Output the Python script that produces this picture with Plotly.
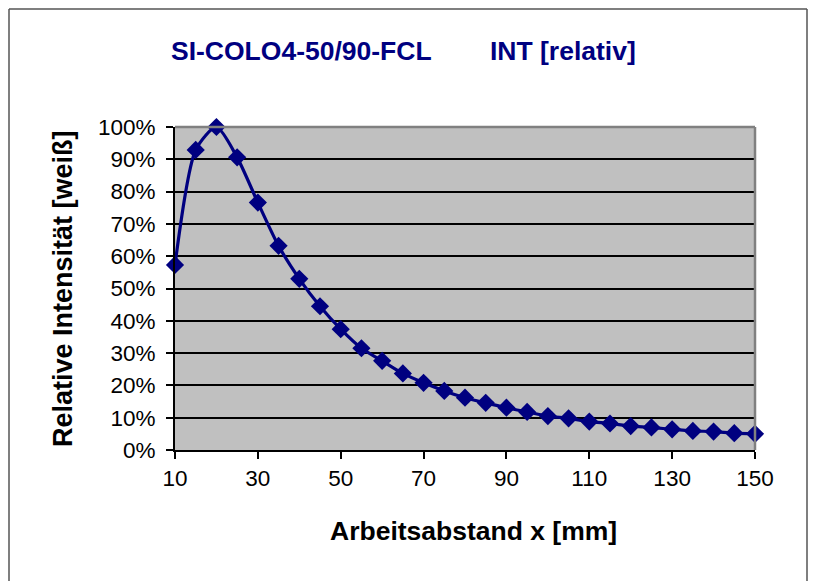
import plotly.graph_objects as go

# Data
abstand_mm = [10, 15, 20, 25, 30, 35, 40, 45, 50, 55, 60, 65, 70, 75, 80,
              85, 90, 95, 100, 105, 110, 115, 120, 125, 130, 135, 140, 145, 150]
intensitaet = [0.573, 0.929, 1.000, 0.906, 0.766, 0.632, 0.530, 0.445, 0.374, 0.315,
               0.276, 0.237, 0.208, 0.183, 0.162, 0.146, 0.131, 0.118, 0.105, 0.098,
               0.088, 0.082, 0.074, 0.070, 0.064, 0.059, 0.057, 0.052, 0.050]

x_ticks = [10, 30, 50, 70, 90, 110, 130, 150]
y_ticks = [0, 0.1, 0.2, 0.3, 0.4, 0.5, 0.6, 0.7, 0.8, 0.9, 1.0]
y_tick_labels = ["0%", "10%", "20%", "30%", "40%", "50%", "60%", "70%", "80%", "90%", "100%"]

title_left = "SI-COLO4-50/90-FCL"
title_right = "INT [relativ]"
x_title = "Arbeitsabstand x [mm]"
y_title = "Relative Intensität [weiß]"

FONT = "Arial, Liberation Sans, sans-serif"
NAVY = "#000080"

fig = go.Figure()
fig.add_trace(go.Scatter(
    x=abstand_mm, y=intensitaet,
    mode="lines+markers",
    line=dict(color=NAVY, width=3.2, shape="spline", smoothing=0.7),
    marker=dict(symbol="diamond", size=14, color=NAVY),
    cliponaxis=False,
    showlegend=False,
))

# page offset (browser body margin)
OFF = 8
# plot-area in screen pixels
L, R, T, B = 175, 755, 127, 450
W, H = 818 - OFF, 581 - OFF
pw, ph = R - L, B - T

def px(xp):
    return (xp - L) / pw

def py(yp):
    return (B - yp) / ph

BORDER = dict(color="#555555", width=1.5)
fig.update_layout(
    width=W, height=H,
    margin=dict(l=L - OFF, r=W - (R - OFF), t=T - OFF, b=H - (B - OFF), pad=0),
    paper_bgcolor="white",
    plot_bgcolor="#C0C0C0",
    font=dict(family=FONT, color="black"),
    xaxis=dict(
        range=[10, 150], tickvals=x_ticks, ticktext=[str(v) for v in x_ticks],
        showgrid=False, zeroline=False,
        showline=True, linecolor="black", linewidth=2,
        ticks="outside", ticklen=7, tickwidth=1.5, tickcolor="black",
        tickfont=dict(size=22.5, family=FONT, color="black"),
    ),
    yaxis=dict(
        range=[0, 1], tickvals=y_ticks, ticktext=y_tick_labels,
        showgrid=True, gridcolor="black", gridwidth=1.5,
        zeroline=False,
        showline=True, linecolor="black", linewidth=2,
        ticks="outside", ticklen=7, tickwidth=1.5, tickcolor="black",
        ticklabelstandoff=6,
        tickfont=dict(size=22.5, family=FONT, color="black"),
    ),
    shapes=[
        # outer chart border: top, left, right
        dict(type="line", xref="paper", yref="paper",
             x0=px(9), x1=px(807), y0=py(9), y1=py(9), line=BORDER),
        dict(type="line", xref="paper", yref="paper",
             x0=px(9), x1=px(9), y0=py(9), y1=py(581), line=BORDER),
        dict(type="line", xref="paper", yref="paper",
             x0=px(807), x1=px(807), y0=py(9), y1=py(581), line=BORDER),
        # top and right plot-area border (gray)
        dict(type="line", xref="paper", yref="paper", x0=0, x1=1, y0=1, y1=1,
             line=dict(color="#808080", width=2.5)),
        dict(type="line", xref="paper", yref="paper", x0=1, x1=1, y0=0, y1=1,
             line=dict(color="#808080", width=2.5)),
    ],
    annotations=[
        dict(text=f"<b>{title_left}</b>", xref="paper", yref="paper",
             x=px(301), y=py(51), showarrow=False, xanchor="center", yanchor="middle",
             font=dict(size=26.5, family=FONT, color=NAVY)),
        dict(text=f"<b>{title_right}</b>", xref="paper", yref="paper",
             x=px(563), y=py(51), showarrow=False, xanchor="center", yanchor="middle",
             font=dict(size=26.5, family=FONT, color=NAVY)),
        dict(text=f"<b>{x_title}</b>", xref="paper", yref="paper",
             x=px(473), y=py(531), showarrow=False, xanchor="center", yanchor="middle",
             font=dict(size=26.5, family=FONT, color="black")),
        dict(text=f"<b>{y_title}</b>", xref="paper", yref="paper",
             x=px(63), y=py(289), showarrow=False, xanchor="center", yanchor="middle",
             textangle=-90,
             font=dict(size=27, family=FONT, color="black")),
    ],
)

fig.write_html("out.html")
